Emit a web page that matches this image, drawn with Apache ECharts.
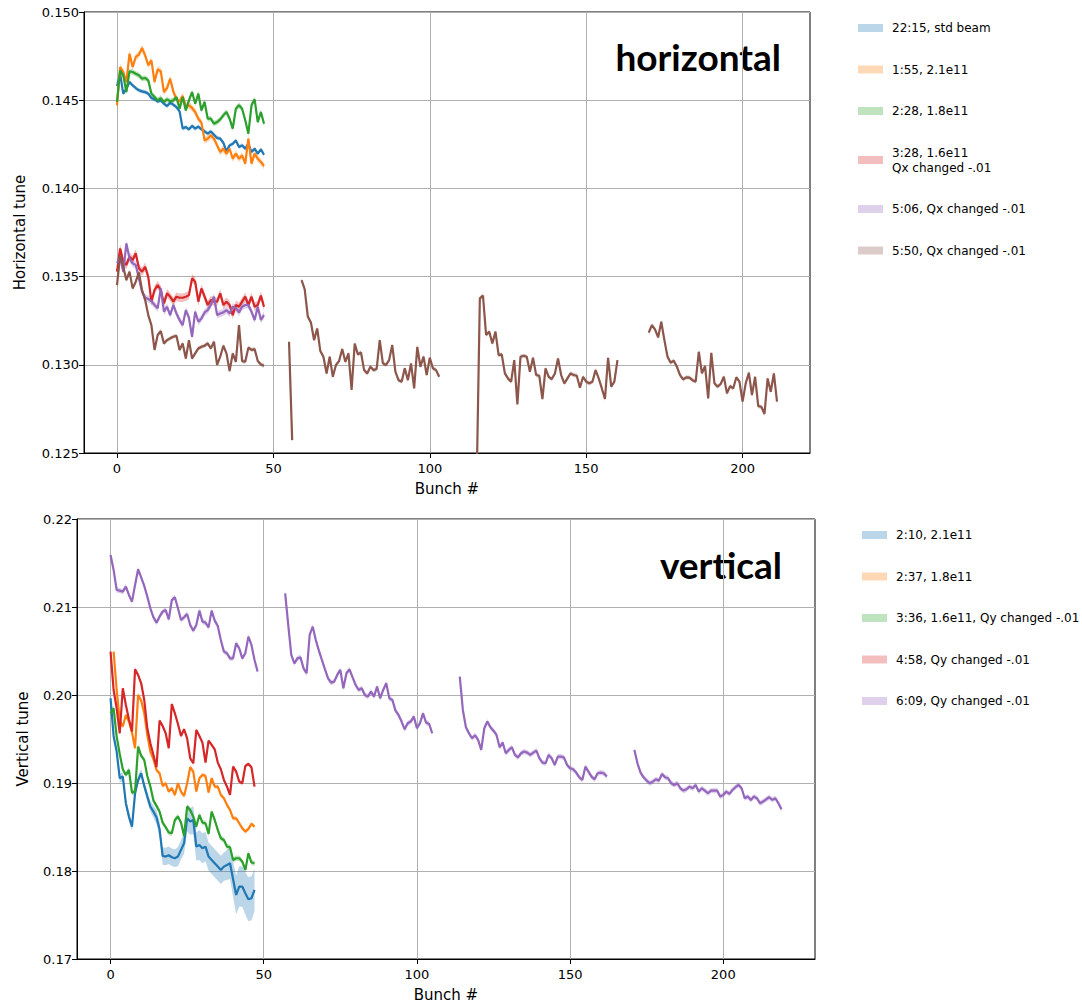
<!DOCTYPE html>
<html>
<head>
<meta charset="utf-8">
<script src="https://cdn.jsdelivr.net/npm/echarts@6/dist/echarts.min.js"></script>
<style>
  html, body { margin: 0; padding: 0; background: #fff; }
  #chart { width: 1082px; height: 1003px; }
</style>
</head>
<body>
<div id="chart"></div>
<script>
// ---------------- Horizontal tune per bunch ----------------
const hTicksX = [0, 50, 100, 150, 200];
const hStd2215 = [0.14580,0.14650,0.14537,0.14565,0.14603,0.14584,0.14569,0.14556,0.14550,0.14546,
  0.14537,0.14512,0.14505,0.14493,0.14499,0.14480,0.14467,0.14486,0.14475,0.14461,
  0.14437,0.14339,0.14348,0.14335,0.14354,0.14339,0.14350,0.14335,0.14323,0.14310,
  0.14323,0.14304,0.14286,0.14282,0.14259,0.14210,0.14244,0.14253,0.14272,0.14235,
  0.14244,0.14225,0.14253,0.14206,0.14225,0.14197,0.14221,0.14191];
const h155 = [0.14471,0.14688,0.14660,0.14603,0.14764,0.14688,0.14745,0.14758,0.14796,0.14754,
  0.14698,0.14726,0.14603,0.14675,0.14664,0.14546,0.14569,0.14622,0.14550,0.14505,
  0.14493,0.14524,0.14467,0.14471,0.14456,0.14433,0.14395,0.14373,0.14272,0.14282,
  0.14301,0.14282,0.14244,0.14206,0.14225,0.14197,0.14225,0.14168,0.14197,0.14168,
  0.14187,0.14140,0.14282,0.14140,0.14197,0.14168,0.14150,0.14127];
const h228 = [0.14490,0.14669,0.14641,0.14546,0.14664,0.14660,0.14650,0.14641,0.14622,0.14626,
  0.14613,0.14537,0.14518,0.14499,0.14512,0.14490,0.14505,0.14493,0.14499,0.14518,
  0.14452,0.14518,0.14442,0.14499,0.14546,0.14480,0.14537,0.14442,0.14490,0.14395,
  0.14395,0.14367,0.14376,0.14391,0.14414,0.14433,0.14395,0.14339,0.14452,0.14471,
  0.14452,0.14386,0.14310,0.14471,0.14505,0.14376,0.14433,0.14367];
const h328 = [0.13528,0.13660,0.13584,0.13566,0.13613,0.13594,0.13632,0.13547,0.13528,0.13556,
  0.13499,0.13358,0.13424,0.13452,0.13424,0.13348,0.13405,0.13386,0.13358,0.13386,
  0.13380,0.13380,0.13386,0.13395,0.13490,0.13471,0.13358,0.13433,0.13386,0.13339,
  0.13367,0.13358,0.13358,0.13405,0.13339,0.13358,0.13339,0.13282,0.13339,0.13329,
  0.13358,0.13386,0.13339,0.13386,0.13329,0.13339,0.13392,0.13329];
const h506 = [0.13575,0.13613,0.13528,0.13688,0.13603,0.13575,0.13566,0.13490,0.13414,0.13380,
  0.13373,0.13361,0.13339,0.13320,0.13433,0.13301,0.13329,0.13282,0.13339,0.13291,
  0.13254,0.13225,0.13310,0.13267,0.13159,0.13301,0.13244,0.13263,0.13297,0.13310,
  0.13339,0.13386,0.13282,0.13291,0.13297,0.13310,0.13291,0.13329,0.13320,0.13297,
  0.13329,0.13339,0.13339,0.13301,0.13254,0.13329,0.13254,0.13282];
// 5:50 run: five bunch trains, each with its first bunch number
const h550Starts = [0, 55, 59, 115, 170];
const h550Train1 = [0.13452,0.13618,0.13556,0.13480,0.13528,0.13433,0.13471,0.13524,0.13424,0.13367,
  0.13282,0.13225,0.13084,0.13169,0.13191,0.13121,0.13140,0.13150,0.13159,0.13165,
  0.13084,0.13121,0.13036,0.13140,0.13036,0.13065,0.13093,0.13102,0.13108,0.13121,
  0.13093,0.13131,0.12999,0.13046,0.13108,0.13065,0.12964,0.13065,0.13017,0.13225,
  0.13021,0.13017,0.13097,0.13084,0.13089,0.13021,0.13002,0.12995];
const h550Train2 = [0.13131,0.12573];
const h550Train3 = [0.13480,0.13429,0.13273,0.13240,0.13140,0.13206,0.13078,0.13046,0.12951,0.13046,
  0.12932,0.12999,0.13021,0.13089,0.13017,0.13065,0.12857,0.13121,0.13059,0.13070,
  0.12970,0.12951,0.12989,0.12970,0.12976,0.13140,0.13008,0.12999,0.13027,0.13112,
  0.12961,0.12913,0.12904,0.12980,0.12913,0.13008,0.12866,0.13102,0.12989,0.13046,
  0.12942,0.13040,0.12980,0.12970,0.12932];
const h550Train4 = [0.12350,
  0.13377,0.13392,0.13169,0.13188,0.13121,0.13188,0.13055,0.13059,0.12951,0.12923,
  0.12904,0.13027,0.12776,0.13046,0.13051,0.13046,0.12961,0.13040,0.12942,0.12938,
  0.12806,0.12980,0.12932,0.12919,0.12951,0.13036,0.12942,0.12895,0.12923,0.12951,
  0.12942,0.12938,0.12870,0.12932,0.12904,0.12895,0.12904,0.12970,0.12923,0.12866,
  0.12806,0.13040,0.12876,0.12904,0.13027];
const h550Train5 = [0.13182,0.13225,0.13201,0.13155,0.13244,0.13140,0.13046,0.13012,0.13023,0.12989,
  0.12942,0.12917,0.12929,0.12927,0.12913,0.12904,0.13074,0.12951,0.12993,0.12809,
  0.13068,0.12895,0.12876,0.12891,0.12932,0.12838,0.12879,0.12866,0.12929,0.12904,
  0.12791,0.12895,0.12955,0.12828,0.12932,0.12766,0.12762,0.12721,0.12923,0.12847,
  0.12951,0.12791];
// half-width of the shaded spread around each horizontal run
const hSpread = [0.00012, 0.00019, 0.00016, 0.00024, 0.00020, 0.00012];

// ---------------- Vertical tune per bunch ----------------
const vTicksX = [0, 50, 100, 150, 200];
const v210 = [0.19963,0.19535,0.19357,0.19054,0.19073,0.18770,0.18618,0.18505,0.18883,0.19035,
  0.19111,0.18967,0.18846,0.18732,0.18675,0.18611,0.18474,0.18171,0.18164,0.18179,
  0.18156,0.18145,0.18164,0.18240,0.18315,0.18599,0.18562,0.18580,0.18277,0.18296,
  0.18259,0.18277,0.18164,0.18126,0.18088,0.18050,0.18012,0.18050,0.18069,0.18088,
  0.17906,0.17728,0.17823,0.17823,0.17747,0.17679,0.17691,0.17785];
const v210Spread = [0.0004,0.0004,0.0004,0.0005,0.0005,0.0005,0.0005,0.0005,0.0005,0.0005,
  0.0005,0.0005,0.0006,0.0006,0.0007,0.0008,0.0009,0.0010,0.0010,0.0010,
  0.0010,0.0010,0.0011,0.0011,0.0012,0.0015,0.0015,0.0016,0.0016,0.0017,
  0.0017,0.0017,0.0016,0.0016,0.0016,0.0016,0.0016,0.0016,0.0017,0.0018,
  0.0020,0.0022,0.0023,0.0023,0.0024,0.0025,0.0025,0.0024];
const v237Start = 1;
const v237 = [0.20493,0.20057,0.19709,0.19641,0.19773,0.19698,0.19573,0.19395,0.20001,0.19936,
  0.19792,0.19546,0.19357,0.19270,0.19149,0.19111,0.18967,0.18997,0.18902,0.18940,
  0.18864,0.18997,0.18902,0.18853,0.18997,0.19179,0.19130,0.18902,0.19054,0.19092,
  0.19080,0.18891,0.19054,0.18959,0.18959,0.18864,0.18827,0.18751,0.18694,0.18599,
  0.18599,0.18543,0.18486,0.18448,0.18478,0.18535,0.18505];
const v336 = [0.19792,0.19849,0.19527,0.19330,0.19156,0.19092,0.19149,0.18891,0.18902,0.19414,
  0.19308,0.19262,0.19080,0.18959,0.18800,0.18740,0.18675,0.18550,0.18497,0.18437,
  0.18429,0.18580,0.18618,0.18550,0.18399,0.18732,0.18694,0.18618,0.18505,0.18637,
  0.18550,0.18543,0.18421,0.18675,0.18580,0.18467,0.18372,0.18353,0.18277,0.18270,
  0.18126,0.18145,0.18145,0.18107,0.18012,0.18202,0.18096,0.18088];
const v458 = [0.20493,0.20057,0.19849,0.19565,0.20076,0.19887,0.19724,0.19584,0.20292,0.20228,
  0.20133,0.19944,0.19622,0.19451,0.19319,0.19179,0.19709,0.19648,0.19565,0.19395,
  0.19898,0.19792,0.19671,0.19535,0.19611,0.19508,0.19281,0.19224,0.19603,0.19535,
  0.19459,0.19232,0.19482,0.19433,0.19383,0.19232,0.19156,0.19035,0.18959,0.18864,
  0.19186,0.19130,0.19016,0.18997,0.19194,0.19217,0.19179,0.18959];
const v609Starts = [0, 57, 114, 171];
const v609Train1 = [0.21591,0.21421,0.21193,0.21186,0.21174,0.21231,0.21137,0.21061,0.21250,0.21428,
  0.21337,0.21239,0.21118,0.20985,0.20883,0.20822,0.20890,0.20947,0.20966,0.20860,
  0.21080,0.21110,0.20985,0.20853,0.20883,0.20921,0.20796,0.20731,0.20796,0.20959,
  0.20834,0.20822,0.20769,0.20959,0.20845,0.20784,0.20625,0.20493,0.20474,0.20417,
  0.20417,0.20587,0.20531,0.20417,0.20474,0.20663,0.20569,0.20398,0.20266];
const v609Train2 = [0.21156,0.20796,0.20455,0.20360,0.20417,0.20428,0.20303,0.20247,0.20682,0.20777,
  0.20625,0.20504,0.20398,0.20292,0.20190,0.20141,0.20152,0.20228,0.20285,0.20076,
  0.20247,0.20292,0.20201,0.20114,0.20057,0.20076,0.20001,0.19982,0.20038,0.19982,
  0.20095,0.19963,0.20057,0.20133,0.19963,0.19944,0.19823,0.19773,0.19698,0.19610,
  0.19679,0.19698,0.19754,0.19622,0.19679,0.19792,0.19686,0.19671,0.19565];
const v609Train3 = [0.20209,0.19830,0.19633,0.19565,0.19508,0.19542,0.19489,0.19376,0.19622,0.19698,
  0.19633,0.19595,0.19546,0.19406,0.19459,0.19338,0.19376,0.19406,0.19319,0.19292,
  0.19338,0.19357,0.19345,0.19319,0.19345,0.19368,0.19281,0.19232,0.19224,0.19319,
  0.19281,0.19205,0.19300,0.19300,0.19292,0.19205,0.19167,0.19156,0.19118,0.19065,
  0.19035,0.19186,0.19130,0.19073,0.19042,0.19111,0.19118,0.19111,0.19073];
const v609Train4 = [0.19376,0.19224,0.19118,0.19065,0.19027,0.18997,0.19016,0.19042,0.19027,0.19103,
  0.19065,0.19054,0.18997,0.18978,0.18997,0.18940,0.18914,0.18929,0.18959,0.18940,
  0.18978,0.18902,0.18940,0.18914,0.18883,0.18914,0.18914,0.18914,0.18846,0.18865,
  0.18902,0.18876,0.18921,0.18952,0.18978,0.18940,0.18827,0.18846,0.18808,0.18846,
  0.18827,0.18770,0.18789,0.18815,0.18838,0.18808,0.18827,0.18770,0.18702];
const vSpread = [null, 0.00025, 0.00030, 0.00022, 0.00030];

const hNames = ['22:15, std beam', '1:55, 2.1e11', '2:28, 1.8e11',
  '3:28, 1.6e11\nQx changed -.01', '5:06, Qx changed -.01', '5:50, Qx changed -.01'];
const vNames = ['2:10, 2.1e11', '2:37, 1.8e11', '3:36, 1.6e11, Qy changed -.01',
  '4:58, Qy changed -.01', '6:09, Qy changed -.01'];

const TAB = ['#1f77b4', '#ff7f0e', '#2ca02c', '#d62728', '#9467bd', '#8c564b'];
const FONT = 'DejaVu Sans';

function rgba(hex, a) {
  const n = parseInt(hex.slice(1), 16);
  return `rgba(${(n >> 16) & 255},${(n >> 8) & 255},${n & 255},${a})`;
}

// shaded spread: one polygon per train, placed through the axis scales
function band(grid, color, start, values, spread) {
  const pts = values.map((v, i) => {
    const s = Array.isArray(spread) ? spread[i] : spread;
    return [start + i, v - s, v + s];
  });
  return {
    type: 'custom', xAxisIndex: grid, yAxisIndex: grid, z: 1, silent: true, clip: true,
    encode: { x: 0, y: [1, 2] },
    data: pts,
    renderItem(params, api) {
      if (params.dataIndex !== 0) return null;
      const upper = pts.map(p => api.coord([p[0], p[2]]));
      const lower = pts.map(p => api.coord([p[0], p[1]])).reverse();
      return { type: 'polygon', shape: { points: upper.concat(lower) },
               style: { fill: rgba(color, 0.3), stroke: null } };
    }
  };
}

function line(grid, name, color, start, values) {
  return {
    type: 'line', name, xAxisIndex: grid, yAxisIndex: grid, z: 2, silent: true, clip: true,
    data: values.map((v, i) => [start + i, v]),
    showSymbol: false, symbol: 'none',
    lineStyle: { color, width: 2.2 }, itemStyle: { color }
  };
}

function run(grid, name, color, starts, trains, spread) {
  const out = [];
  trains.forEach((t, k) => {
    out.push(band(grid, color, starts[k], t, spread));
    out.push(line(grid, name, color, starts[k], t));
  });
  return out;
}

const series = [].concat(
  run(0, hNames[0], TAB[0], [0], [hStd2215], hSpread[0]),
  run(0, hNames[1], TAB[1], [0], [h155], hSpread[1]),
  run(0, hNames[2], TAB[2], [0], [h228], hSpread[2]),
  run(0, hNames[3], TAB[3], [0], [h328], hSpread[3]),
  run(0, hNames[4], TAB[4], [0], [h506], hSpread[4]),
  run(0, hNames[5], TAB[5], h550Starts,
      [h550Train1, h550Train2, h550Train3, h550Train4, h550Train5], hSpread[5]),
  run(1, vNames[0], TAB[0], [0], [v210], v210Spread),
  run(1, vNames[1], TAB[1], [v237Start], [v237], vSpread[1]),
  run(1, vNames[2], TAB[2], [0], [v336], vSpread[2]),
  run(1, vNames[3], TAB[3], [0], [v458], vSpread[3]),
  run(1, vNames[4], TAB[4], v609Starts,
      [v609Train1, v609Train2, v609Train3, v609Train4], vSpread[4])
);

const labelStyle = { fontFamily: FONT, fontSize: 13, color: '#000' };
const nameStyle = { fontFamily: FONT, fontSize: 15, color: '#000' };

function xAxis(grid, min, max, ticks) {
  return {
    type: 'value', gridIndex: grid, min, max,
    name: 'Bunch #', nameLocation: 'middle', nameGap: 28,
    nameTextStyle: nameStyle,
    axisLine: { show: true, onZero: false, lineStyle: { color: '#000', width: 1 } },
    axisTick: { show: true, inside: false, length: 5, customValues: ticks,
                lineStyle: { color: '#000', width: 1 } },
    axisLabel: Object.assign({ customValues: ticks, margin: 9 }, labelStyle),
    splitLine: { show: true, lineStyle: { color: '#b0b0b0', width: 1 } }
  };
}
function yAxis(grid, min, max, interval, digits, name, gap) {
  return {
    type: 'value', gridIndex: grid, min, max, interval,
    name, nameLocation: 'middle', nameGap: gap, nameRotate: 90,
    nameTextStyle: nameStyle,
    axisLine: { show: true, onZero: false, lineStyle: { color: '#000', width: 1 } },
    axisTick: { show: true, inside: false, length: 5, lineStyle: { color: '#000', width: 1 } },
    axisLabel: Object.assign({ margin: 5, formatter: v => v.toFixed(digits) }, labelStyle),
    splitLine: { show: true, lineStyle: { color: '#b0b0b0', width: 1 } }
  };
}

function legend(names, left, top) {
  return {
    orient: 'vertical', left, top, padding: 0, itemWidth: 25, itemHeight: 8, itemGap: 26.5,
    icon: 'rect', selectedMode: false,
    textStyle: { fontFamily: FONT, fontSize: 12, color: '#000', lineHeight: 15, padding: [0, 0, 0, 4] },
    data: names.map((n, i) => ({ name: n, itemStyle: { color: rgba(TAB[i], 0.3) } }))
  };
}

const chart = echarts.init(document.getElementById('chart'), null, { renderer: 'svg' });
chart.setOption({
  animation: false,
  backgroundColor: '#fff',
  grid: [
    { left: 84, top: 12, width: 726, height: 441, show: true, borderColor: '#000', borderWidth: 1, backgroundColor: 'transparent' },
    { left: 77, top: 519, width: 738, height: 440, show: true, borderColor: '#000', borderWidth: 1, backgroundColor: 'transparent' }
  ],
  xAxis: [xAxis(0, -10.55, 221.55, hTicksX), xAxis(1, -10.95, 229.95, vTicksX)],
  yAxis: [yAxis(0, 0.125, 0.150, 0.005, 3, 'Horizontal tune', 57),
          yAxis(1, 0.17, 0.22, 0.01, 2, 'Vertical tune', 47)],
  legend: [legend(hNames, 858, 20.5), legend(vNames, 862, 527.5)],
  graphic: [
    { type: 'text', x: 781, y: 56, silent: true,
      style: { text: 'horizontal', fontFamily: 'Lato', fontWeight: 'bold', fontSize: 37,
               fill: '#000', align: 'right', verticalAlign: 'middle' } },
    { type: 'text', x: 782, y: 564, silent: true,
      style: { text: 'vertical', fontFamily: 'Lato', fontWeight: 'bold', fontSize: 37,
               fill: '#000', align: 'right', verticalAlign: 'middle' } }
  ],
  series
});
</script>
</body>
</html>
